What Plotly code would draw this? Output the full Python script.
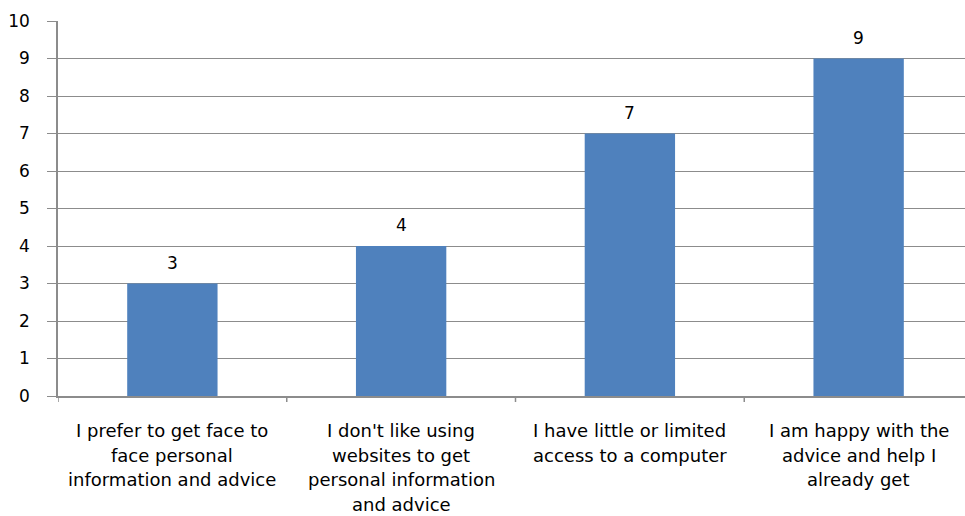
import plotly.graph_objects as go

category_lines = [
    ["I prefer to get face to", "face personal", "information and advice"],
    ["I don't like using", "websites to get", "personal information", "and advice"],
    ["I have little or limited", "access to a computer"],
    ["I am happy with the", "advice and help I", "already get"],
]
values = [3, 4, 7, 9]
y_ticks = list(range(0, 11))

font_family = "'DejaVu Sans', sans-serif"
grid_color = "#8c8c8c"
x_pos = list(range(len(values)))

fig = go.Figure(
    go.Bar(
        x=x_pos,
        y=values,
        marker=dict(color="#4F81BD", line=dict(width=0)),
        width=0.395,
        hoverinfo="x+y",
    )
)

# value labels above the bars
for xi, v in zip(x_pos, values):
    fig.add_annotation(
        x=xi, y=v, xref="x", yref="y", text=str(v), showarrow=False,
        yanchor="middle", yshift=21,
        font=dict(family=font_family, size=17, color="#000000"),
    )

# category labels, one line at a time with wide line spacing
for xi, lines in zip(x_pos, category_lines):
    for j, line in enumerate(lines):
        fig.add_annotation(
            x=xi, y=0, xref="x", yref="y", text=line, showarrow=False,
            yanchor="middle", yshift=-(34.5 + 24.7 * j), borderpad=0,
            font=dict(family=font_family, size=18, color="#000000"),
        )

fig.update_layout(
    width=965,
    height=516,
    margin=dict(l=58, r=0, t=21, b=120),
    paper_bgcolor="white",
    plot_bgcolor="white",
    showlegend=False,
    font=dict(family=font_family, size=17, color="#000000"),
)

fig.update_xaxes(
    type="linear",
    range=[-0.5, 3.465],
    showticklabels=False,
    showgrid=False,
    showline=True,
    linecolor=grid_color,
    linewidth=1.5,
    ticks="",
    zeroline=False,
)

fig.update_yaxes(
    range=[0, 10],
    tickmode="array",
    tickvals=y_ticks,
    showgrid=True,
    gridcolor=grid_color,
    gridwidth=1,
    showline=True,
    linecolor=grid_color,
    linewidth=1.5,
    ticks="outside",
    ticklen=9,
    tickcolor=grid_color,
    ticklabelstandoff=14,
    zeroline=False,
    tickfont=dict(family=font_family, size=17),
)

# category boundary tick marks below the x axis
for b in [-0.5, 0.5, 1.5, 2.5]:
    fig.add_shape(
        type="line", xref="x", yref="paper",
        x0=b, x1=b, y0=0, y1=-0.016,
        line=dict(color=grid_color, width=1.5),
    )

fig.write_html("out.html")
